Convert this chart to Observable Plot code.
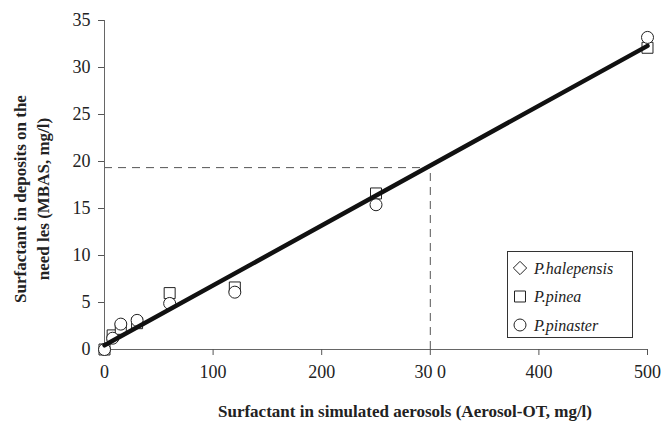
<!DOCTYPE html>
<html><head><meta charset="utf-8">
<script src="https://cdn.jsdelivr.net/npm/d3@7"></script>
<script src="https://cdn.jsdelivr.net/npm/@observablehq/plot@0.6"></script>
<style>
body{margin:0;background:#fff;font-family:'Liberation Serif'}
#pre{position:absolute;left:0;top:0;font-family:'Liberation Serif';font-size:1px;color:#fff;opacity:0.01}
#pre b{font-weight:bold}
#chart text{font-family:'Liberation Serif'}
</style>
</head><body><div id="pre">Aa <b>Bb</b> <i>Ii</i></div><div id="chart"></div>
<script>
const conc = [0, 7.5, 15, 30, 60, 120, 250, 500];
const halepensis = [0, 1.3, 2.3, 2.9, 5.6, 6.4, 16.2, 32.3];
const pinea = [0, 1.5, 2.2, 2.8, 6.0, 6.6, 16.6, 32.1];
const pinaster = [0, 1.2, 2.7, 3.1, 4.9, 6.1, 15.4, 33.2];
const fitX = [0, 500];
const fitY = [0.45, 32.3];
const refX = 300, refY = 19.35;
const xTicks = [0, 100, 200, 300, 400, 500];
const xTickLabels = ["0", "100", "200", "30 0", "400", "500"];
const yTicks = [0, 5, 10, 15, 20, 25, 30, 35];
const seriesNames = ["P.halepensis", "P.pinea", "P.pinaster"];

const rows = (ys) => conc.map((c, i) => ({x: c, y: ys[i]}));
const fit = fitX.map((x, i) => ({x, y: fitY[i]}));
const ink = "#222";
const font = "Liberation Serif";

const plot = Plot.plot({
  width: 662, height: 422,
  marginLeft: 104, marginRight: 15, marginTop: 20, marginBottom: 73,
  style: {fontFamily: font, fontSize: "18px", color: ink, background: "#fff", position: "relative"},
  x: {domain: [0, 500]},
  y: {domain: [0, 35]},
  marks: [
    Plot.ruleY([refY], {x1: 0, x2: refX, stroke: "#555", strokeWidth: 1, strokeDasharray: "8,6"}),
    Plot.ruleX([refX], {y1: 0, y2: refY, stroke: "#555", strokeWidth: 1, strokeDasharray: "8,6"}),
    Plot.ruleY([0], {stroke: "#666", strokeWidth: 1}),
    Plot.ruleX([0], {stroke: "#666", strokeWidth: 1}),
    Plot.axisX({ticks: xTicks, tickFormat: (d) => xTickLabels[xTicks.indexOf(d)], tickSize: 6, tickPadding: 10, stroke: "#555", label: null}),
    Plot.axisY({ticks: yTicks, tickSize: 6, tickPadding: 8, stroke: "#555", label: null}),
    Plot.dot(rows(halepensis), {x: "x", y: "y", symbol: "diamond2", r: 4.5, fill: "white", stroke: ink, strokeWidth: 1}),
    Plot.dot(rows(pinea), {x: "x", y: "y", symbol: "square", r: 6.2, fill: "white", stroke: ink, strokeWidth: 1}),
    Plot.dot(rows(pinaster), {x: "x", y: "y", symbol: "circle", r: 6, fill: "white", stroke: ink, strokeWidth: 1}),
    Plot.line(fit, {x: "x", y: "y", stroke: "#111", strokeWidth: 4.5})
  ]
});

const svg = d3.select(plot);
svg.attr("font-family", font);
// axis titles
svg.append("text").attr("x", 405).attr("y", 417).attr("text-anchor", "middle")
  .attr("font-family", font).attr("font-weight", "bold").attr("font-size", 17).attr("fill", ink)
  .text("Surfactant in simulated aerosols (Aerosol-OT, mg/l)");
const yl = svg.append("text").attr("transform", "translate(0,199) rotate(-90)")
  .attr("text-anchor", "middle").attr("font-family", font).attr("font-weight", "bold")
  .attr("font-size", 17).attr("fill", ink);
yl.append("tspan").attr("x", 0).attr("y", 26).text("Surfactant in deposits on the");
yl.append("tspan").attr("x", 0).attr("y", 49).text("need les (MBAS, mg/l)");

// legend
const lg = svg.append("g");
lg.append("rect").attr("x", 507.5).attr("y", 251.5).attr("width", 125).attr("height", 86)
  .attr("fill", "white").attr("stroke", "#333").attr("stroke-width", 1);
const syms = [d3.symbolDiamond2, d3.symbolSquare, d3.symbolCircle];
const sizes = [Math.PI * 36, Math.PI * 6.2 * 6.2, Math.PI * 36];
seriesNames.forEach((name, i) => {
  const cy = 268 + i * 28.5;
  lg.append("path").attr("d", d3.symbol(syms[i], sizes[i])()).attr("transform", `translate(520,${cy})`)
    .attr("fill", "white").attr("stroke", ink).attr("stroke-width", 1);
  lg.append("text").attr("x", 534).attr("y", cy + 5.5).attr("text-anchor", "start")
    .attr("font-family", font).attr("font-style", "italic").attr("font-size", 16).attr("fill", ink).text(name);
});

svg.selectAll("text").attr("font-family", font).style("font-family", "'Liberation Serif'");
document.getElementById("chart").append(plot);
</script>
</body></html>
